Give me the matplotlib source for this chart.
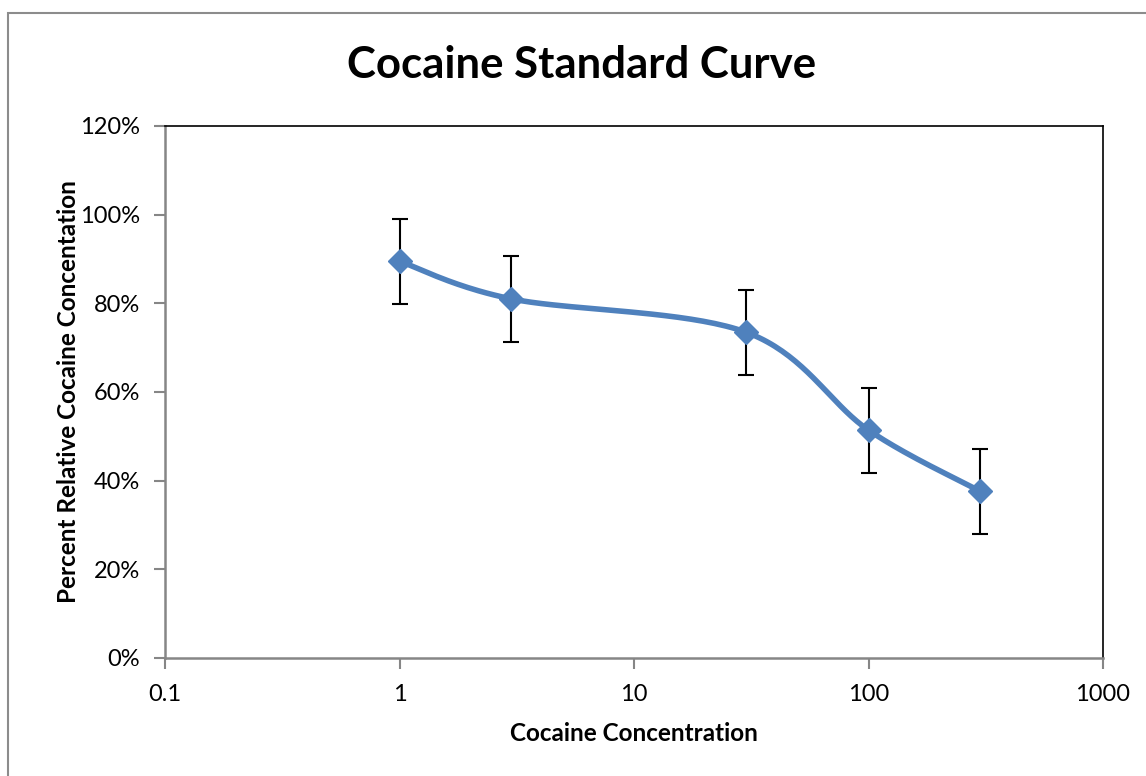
import numpy as np
import matplotlib
matplotlib.use("Agg")
import matplotlib.pyplot as plt
from matplotlib.patches import Rectangle
from matplotlib.ticker import FixedLocator, FixedFormatter, NullLocator

concentration = [1, 3, 30, 100, 300]
percent = [89.5, 81.0, 73.5, 51.4, 37.6]
error = [9.6, 9.7, 9.6, 9.6, 9.6]
x_ticks = [0.1, 1, 10, 100, 1000]
x_tick_labels = ["0.1", "1", "10", "100", "1000"]
y_ticks = [0, 20, 40, 60, 80, 100, 120]
y_tick_labels = ["0%", "20%", "40%", "60%", "80%", "100%", "120%"]

plt.rcParams['font.family'] = ['Lato', 'DejaVu Sans']

fig = plt.figure(figsize=(11.46, 7.76), dpi=100)
W, H = 1146, 776
ax = fig.add_axes([165 / W, 1 - 658 / H, (1103 - 165) / W, (658 - 126) / H])

# chart area border
fig.patches.append(Rectangle((8 / W, -0.01), 1.2, 1 - 13 / H + 0.01, transform=fig.transFigure,
                             fill=False, edgecolor='#8c8c8c', linewidth=1.5, zorder=0))


def smooth(xs, ys, n=40):
    lx = np.log10(np.asarray(xs, float))
    y = np.asarray(ys, float)
    P = np.column_stack([lx, y])
    P = np.vstack([P[0], P, P[-1]])
    out = []
    for i in range(1, len(P) - 2):
        p0, p1, p2, p3 = P[i - 1], P[i], P[i + 1], P[i + 2]
        c1 = p1 + (p2 - p0) / 6.0
        c2 = p2 - (p3 - p1) / 6.0
        t = np.linspace(0, 1, n)[:, None]
        seg = ((1 - t) ** 3) * p1 + 3 * ((1 - t) ** 2) * t * c1 + 3 * (1 - t) * t ** 2 * c2 + t ** 3 * p2
        out.append(seg if i == 1 else seg[1:])
    out = np.vstack(out)
    return 10 ** out[:, 0], out[:, 1]


sx, sy = smooth(concentration, percent)
ax.plot(sx, sy, color='#4f81bd', linewidth=4, solid_capstyle='round', zorder=3)
ax.errorbar(concentration, percent, yerr=error, fmt='none', ecolor='black',
            elinewidth=1.5, capsize=6, capthick=1.5, zorder=4)
ax.plot(concentration, percent, linestyle='none', marker='D', markersize=12,
        color='#4f81bd', markeredgecolor='#4f81bd', zorder=5)

ax.set_xscale('log')
ax.set_xlim(0.1, 1000)
ax.set_ylim(0, 120)
ax.xaxis.set_major_locator(FixedLocator(x_ticks))
ax.xaxis.set_major_formatter(FixedFormatter(x_tick_labels))
ax.xaxis.set_minor_locator(NullLocator())
ax.yaxis.set_major_locator(FixedLocator(y_ticks))
ax.yaxis.set_major_formatter(FixedFormatter(y_tick_labels))

for side in ['left', 'bottom']:
    ax.spines[side].set_color('#868686')
    ax.spines[side].set_linewidth(1.8)
for side in ['top', 'right']:
    ax.spines[side].set_color('black')
    ax.spines[side].set_linewidth(1.2)

ax.tick_params(axis='both', which='major', direction='out', length=8, width=1.5,
               color='#868686', labelsize=17, labelcolor='black')
ax.tick_params(axis='x', pad=11)
ax.tick_params(axis='y', pad=10)

ax.set_xlabel('Cocaine Concentration', fontsize=17.5, fontweight='bold', labelpad=12)
ax.set_ylabel('Percent Relative Cocaine Concentation', fontsize=17.5, fontweight='bold', labelpad=0)
fig.text(582 / W, 1 - 65 / H, 'Cocaine Standard Curve', fontsize=31.5, fontweight='bold',
         ha='center', va='center')

fig.savefig('out.png', dpi=100, facecolor='white')
